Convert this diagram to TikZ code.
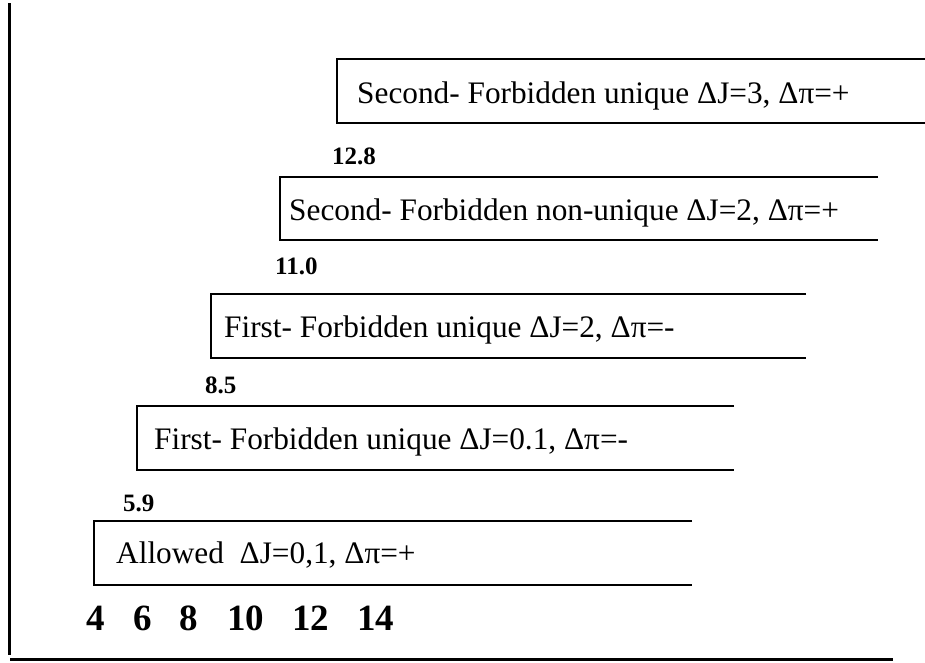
\documentclass[tikz,border=0pt]{standalone}
\usepackage{fontspec}
\setmainfont{Liberation Serif}
\begin{document}
\begin{tikzpicture}[x=1pt,y=-1pt]
\tikzset{
 openbox/.style={line width=1.4pt},
 axisline/.style={line width=3.5pt},
 boxtext/.style={anchor=base west, inner sep=0pt, font=\fontsize{31.3}{36}\selectfont},
 lvl/.style={anchor=base west, inner sep=0pt, font=\fontsize{25}{30}\selectfont\bfseries},
 tick/.style={anchor=base, inner sep=0pt, font=\fontsize{37}{44}\selectfont\bfseries},
}
\useasboundingbox (0,0) rectangle (925,662);
% axes
\coordinate (ytop) at (9.5,3);
\coordinate (ybot) at (9.5,655);
\coordinate (xl) at (10,659);
\coordinate (xr) at (893,659);
\draw[axisline] (ytop) -- (ybot);
\draw[line width=3pt] (xl) -- (xr);
% open boxes
\draw[openbox] (926,59) -- (337,59) -- (337,123) -- (926,123);
\draw[openbox] (878,177) -- (280,177) -- (280,240) -- (878,240);
\draw[openbox] (806,294) -- (211,294) -- (211,358) -- (806,358);
\draw[openbox] (734,406) -- (137,406) -- (137,470) -- (734,470);
\draw[openbox] (692,521) -- (94,521) -- (94,585) -- (692,585);
% box texts
\node[boxtext] (t1) at (357,103) {Second- Forbidden unique ΔJ=3, Δπ=+};
\node[boxtext] (t2) at (289,220) {Second- Forbidden non-unique ΔJ=2, Δπ=+};
\node[boxtext] (t3) at (224,337) {First- Forbidden unique ΔJ=2, Δπ=-};
\node[boxtext] (t4) at (154,449) {First- Forbidden unique ΔJ=0.1, Δπ=-};
\node[boxtext] (t5) at (116,563) {Allowed~~ΔJ=0,1, Δπ=+};
% level labels
\node[lvl] (l1) at (332,164) {12.8};
\node[lvl] (l2) at (275,274) {11.0};
\node[lvl] (l3) at (205,393) {8.5};
\node[lvl] (l4) at (123,511) {5.9};
% axis numbers
\node[tick] (n4) at (95.5,630) {4};
\node[tick] (n6) at (142.5,630) {6};
\node[tick] (n8) at (188.5,630) {8};
\node[tick] (n10) at (245.5,630) {10};
\node[tick] (n12) at (310.5,630) {12};
\node[tick] (n14) at (375.5,630) {14};
\end{tikzpicture}
\end{document}
